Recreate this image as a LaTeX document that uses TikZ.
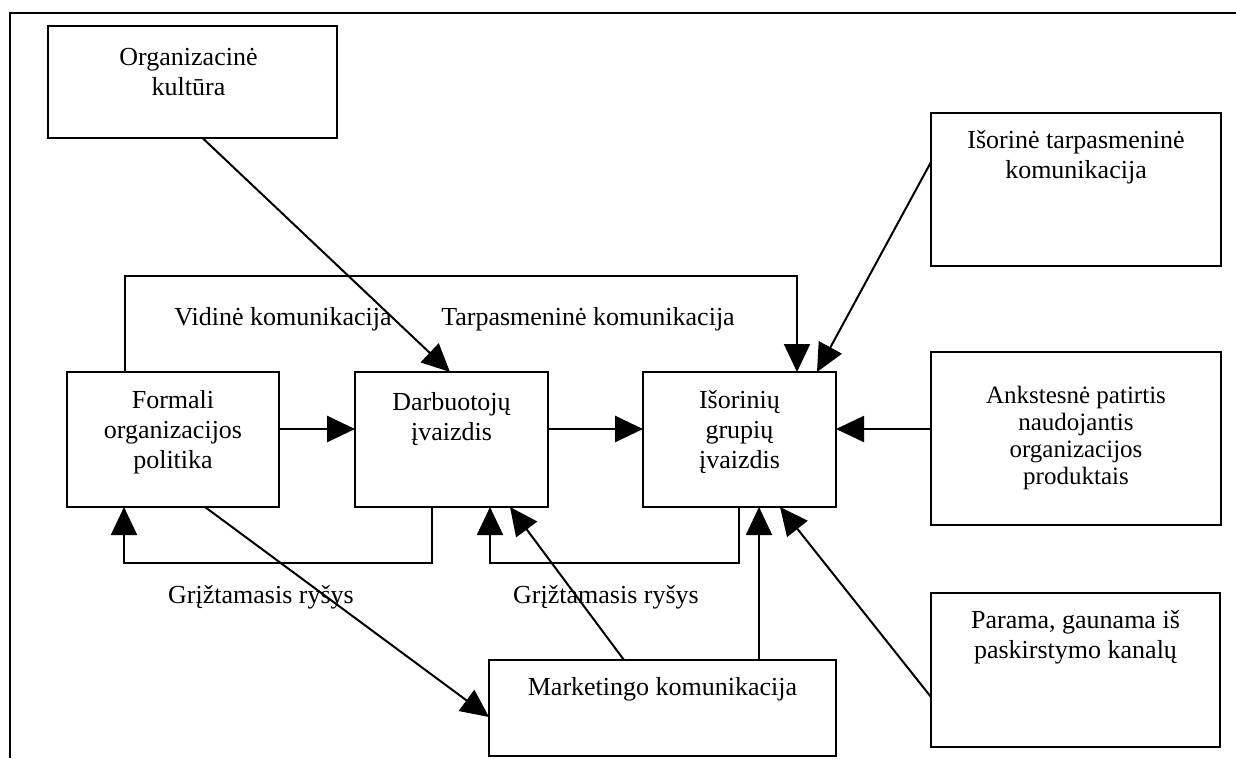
\documentclass[tikz,border=0pt]{standalone}
\usepackage{fontspec}
\setmainfont{Liberation Serif}
\usetikzlibrary{arrows.meta,calc}

\begin{document}
\begin{tikzpicture}[x=1pt,y=-1pt,
  box/.style={draw, line width=2.8pt, inner sep=0pt, outer sep=0pt, anchor=north west},
  txt/.style={align=center, anchor=north, inner sep=0pt, font=\fontsize{26}{30}\selectfont},
  lbl/.style={anchor=base, inner sep=0pt, font=\fontsize{26}{30}\selectfont},
  tip/.style={-{Triangle[length=28pt,width=26pt]}},
  conn/.style={tip, line width=2pt},
  mainconn/.style={tip, line width=2.8pt},
  frame/.style={line width=2.8pt}]

\useasboundingbox (0,0) rectangle (1236,758);

% outer frame (top and left edges)
\draw[frame] (10,758) -- (10,13) -- (1236,13);

% boxes
\node[box, minimum width=289pt, minimum height=112pt] (culture) at (48,26) {};
\node[box, minimum width=212pt, minimum height=135pt] (formal)  at (67,372) {};
\node[box, minimum width=193pt, minimum height=135pt] (darb)    at (355,372) {};
\node[box, minimum width=193pt, minimum height=135pt] (isor)    at (643,372) {};
\node[box, minimum width=290pt, minimum height=153pt] (exttp)   at (931,113) {};
\node[box, minimum width=290pt, minimum height=173pt] (ankst)   at (931,352) {};
\node[box, minimum width=289pt, minimum height=154pt] (parama)  at (931,593) {};
\node[box, minimum width=347pt, minimum height=96pt]  (market)  at (489,660) {};

% box texts
\node[txt] (culture-t) at ($(culture.north)+(-4,18)$) {\strut Organizacinė\\kultūra};
\node[txt] (formal-t)  at ($(formal.north)+(0,15)$) {\strut Formali\\organizacijos\\politika};
\node[txt] (darb-t)    at ($(darb.north)+(0,17)$) {\strut Darbuotojų\\įvaizdis};
\node[txt] (isor-t)    at ($(isor.north)+(0,15)$) {\strut Išorinių\\grupių\\įvaizdis};
\node[txt] (exttp-t)   at ($(exttp.north)+(0,14)$) {\strut Išorinė tarpasmeninė\\komunikacija};
\node[txt, font=\fontsize{25}{27}\selectfont] (ankst-t) at ($(ankst.north)+(0,32)$)
  {\strut Ankstesnė patirtis\\naudojantis\\organizacijos\\produktais};
\node[txt] (parama-t)  at ($(parama.north)+(0,14)$) {\strut Parama, gaunama iš\\paskirstymo kanalų};
\node[txt] (market-t)  at ($(market.north)+(0,14)$) {\strut Marketingo komunikacija};

% free labels
\node[lbl] (vid-l)  at (283,325) {Vidinė komunikacija};
\node[lbl] (tarp-l) at (588,325) {Tarpasmeninė komunikacija};
\node[lbl] (fb1-l)  at (261,603) {Grįžtamasis ryšys};
\node[lbl] (fb2-l)  at (606,603) {Grįžtamasis ryšys};

% main horizontal flow
\draw[mainconn] ($(formal.north east)+(0,57)$) -- ($(darb.north west)+(0,57)$);
\draw[mainconn] ($(darb.north east)+(0,57)$) -- ($(isor.north west)+(0,57)$);
\draw[conn] ($(ankst.north west)+(0,77)$) -- ($(isor.north east)+(0,57)$);

% incoming from above
\draw[conn] ($(culture.south)+(10,0)$) -- ($(darb.north west)+(95,0)$);
\draw[conn] ($(formal.north west)+(58,0)$) -- ++(0,-96) -| ($(isor.north west)+(154,0)$);
\draw[conn] ($(exttp.north west)+(0,49)$) -- ($(isor.north west)+(174,0)$);

% feedback loops
\draw[conn] ($(darb.south west)+(77,0)$) -- ++(0,56) -| ($(formal.south west)+(57,0)$);
\draw[conn] ($(isor.south west)+(96,0)$) -- ++(0,56) -| ($(darb.south west)+(135,0)$);

% marketing and distribution links
\draw[conn] ($(formal.south west)+(138,0)$) -- ($(market.north west)+(0,57)$);
\draw[conn] ($(market.north west)+(135,0)$) -- ($(darb.south west)+(155,0)$);
\draw[conn] ($(market.north west)+(270,0)$) -- ($(isor.south west)+(116,0)$);
\draw[conn] ($(parama.north west)+(0,104)$) -- ($(isor.south west)+(137,0)$);

\end{tikzpicture}
\end{document}
